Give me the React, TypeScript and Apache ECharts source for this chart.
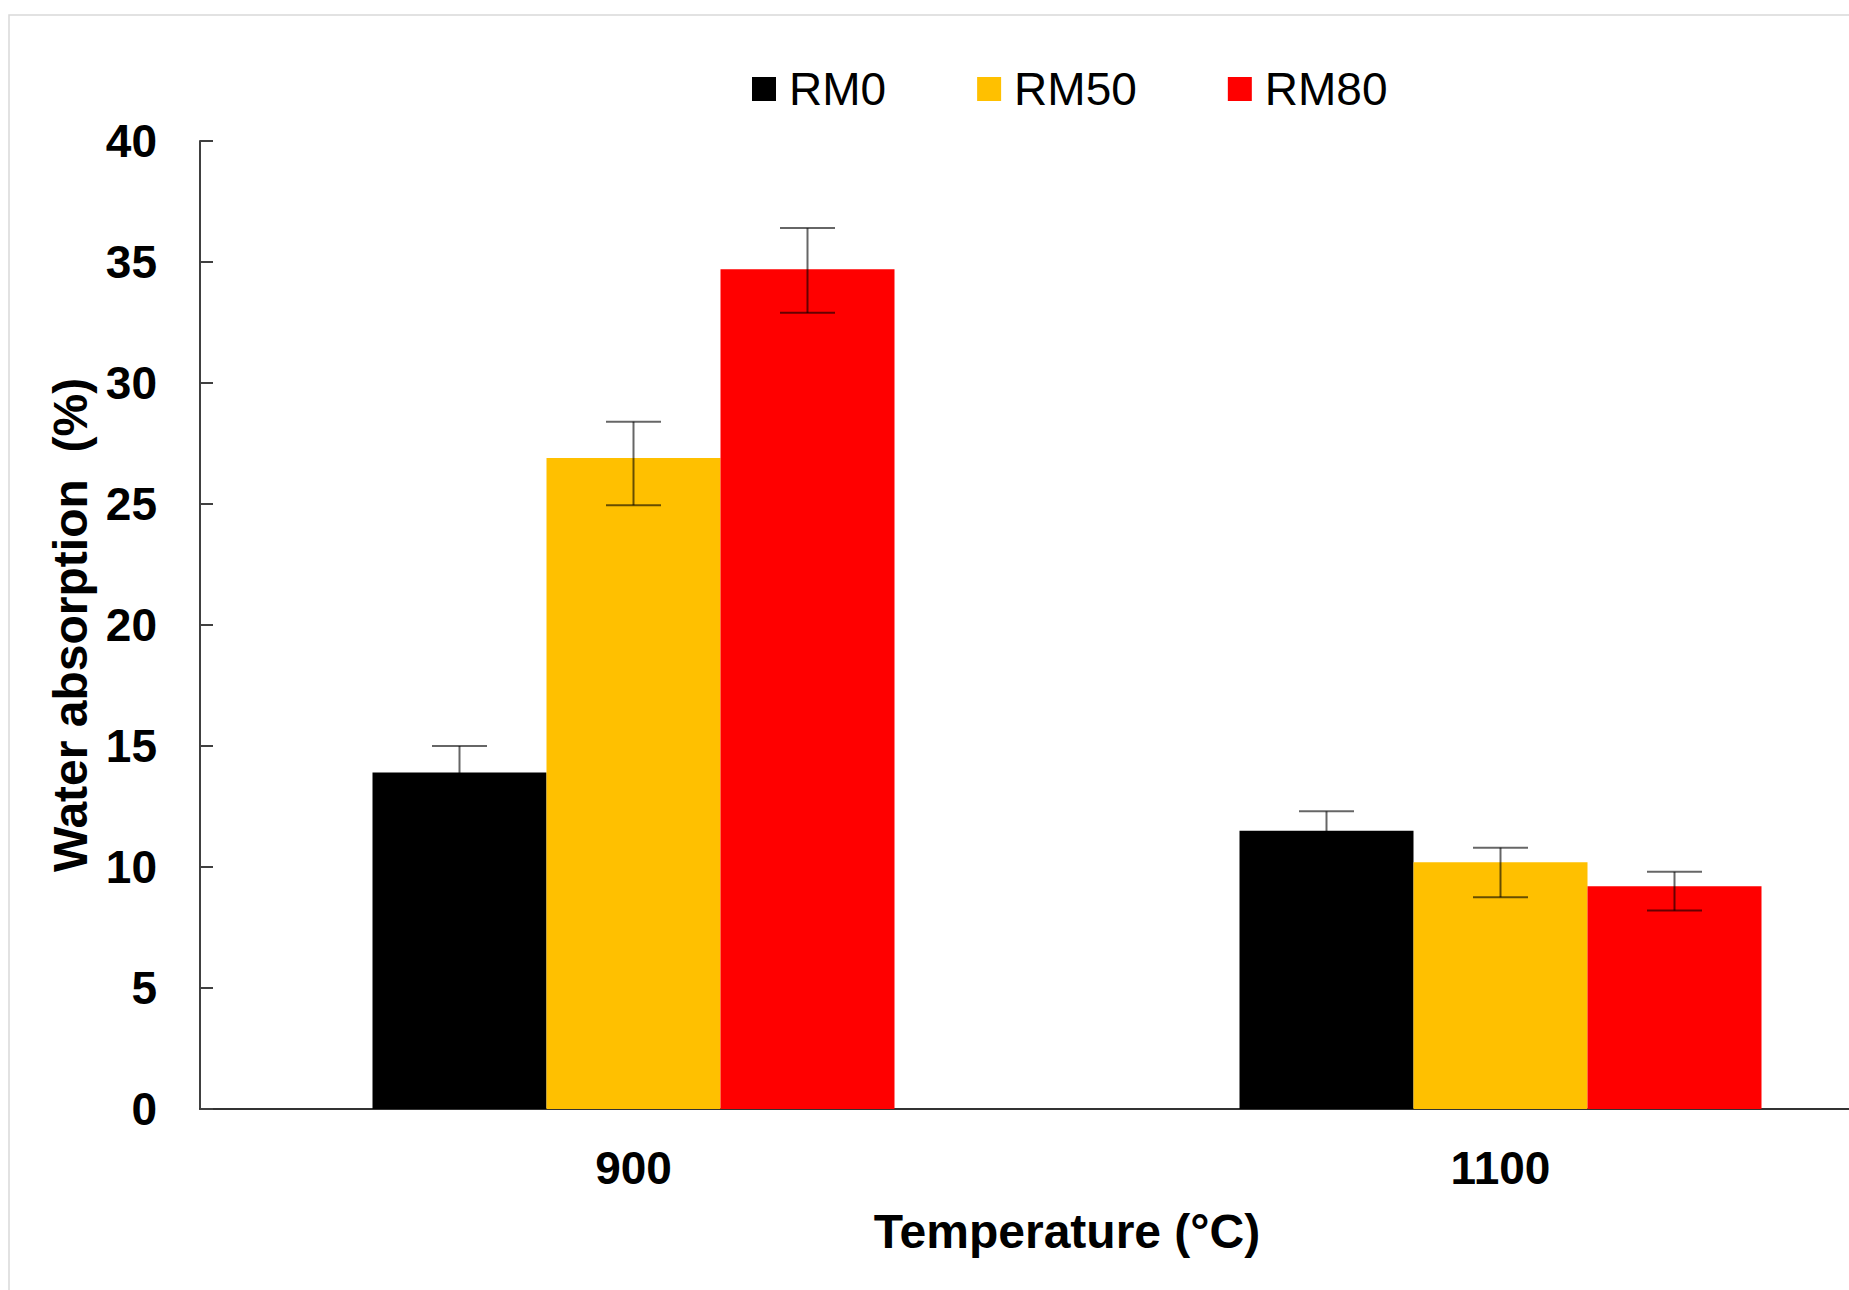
import React, { useEffect, useRef } from "react";
import * as echarts from "echarts";

const categories = ["900", "1100"];
const seriesNames = ["RM0", "RM50", "RM80"];
const seriesColors = ["#000000", "#FFC000", "#FF0000"];
const rm0 = [13.9, 11.5];
const rm50 = [26.9, 10.2];
const rm80 = [34.7, 9.2];
const rm0Low = [12.8, 10.7];
const rm0High = [15.0, 12.3];
const rm50Low = [24.95, 8.75];
const rm50High = [28.4, 10.8];
const rm80Low = [32.9, 8.2];
const rm80High = [36.4, 9.8];
const yTicks = { min: 0, max: 40, interval: 5 };

const FONT = "Arial, 'Liberation Sans', sans-serif";
const BAR_W = 174;
const CAP_W = 55;

export default function App() {
  const ref = useRef<HTMLDivElement>(null);

  useEffect(() => {
    if (!ref.current) return;
    const chart = echarts.init(ref.current, null, { renderer: "svg" });
    const values = [rm0, rm50, rm80];
    const lows = [rm0Low, rm50Low, rm80Low];
    const highs = [rm0High, rm50High, rm80High];
    const errData: number[][] = [];
    for (let s = 0; s < 3; s++) {
      for (let c = 0; c < categories.length; c++) {
        errData.push([c, lows[s][c], highs[s][c], s]);
      }
    }
    const barSeries = seriesNames.map((name, i) => ({
      name,
      type: "bar",
      data: values[i],
      barWidth: BAR_W,
      barGap: "0%",
      itemStyle: { color: seriesColors[i] },
      z: 2,
    }));
    chart.setOption({
      animation: false,
      backgroundColor: "#ffffff",
      graphic: [
        {
          type: "rect",
          shape: { x: 9, y: 15, width: 2000, height: 1300 },
          style: { fill: "none", stroke: "#d9d9d9", lineWidth: 1.5 },
          z: -1,
        },
      ],
      legend: {
        data: seriesNames,
        left: 752,
        top: 66,
        padding: 0,
        itemWidth: 24,
        itemHeight: 24,
        itemGap: 91,
        icon: "rect",
        textStyle: {
          fontSize: 46,
          fontFamily: FONT,
          color: "#000",
          padding: [0, 0, 0, 8],
        },
      },
      grid: { left: 200, top: 141, width: 1734, height: 968, containLabel: false },
      xAxis: {
        type: "category",
        data: categories,
        name: "Temperature (°C)",
        nameLocation: "middle",
        nameGap: 98,
        nameTextStyle: { fontSize: 48, fontWeight: "bold", fontFamily: FONT, color: "#000" },
        axisLine: { lineStyle: { color: "#333", width: 2 } },
        axisTick: { show: false },
        axisLabel: { fontSize: 46, fontWeight: "bold", fontFamily: FONT, color: "#000", margin: 36 },
      },
      yAxis: {
        type: "value",
        min: yTicks.min,
        max: yTicks.max,
        interval: yTicks.interval,
        name: "Water absorption  (%)",
        nameLocation: "middle",
        nameGap: 102,
        nameTextStyle: { fontSize: 48, fontWeight: "bold", fontFamily: FONT, color: "#000" },
        axisLine: { show: true, lineStyle: { color: "#404040", width: 2 } },
        axisTick: { show: true, inside: true, length: 13, lineStyle: { color: "#404040", width: 2 } },
        splitLine: { show: false },
        axisLabel: { fontSize: 46, fontWeight: "bold", fontFamily: FONT, color: "#000", margin: 43 },
      },
      series: [
        ...barSeries,
        {
          name: "err",
          type: "custom",
          data: errData,
          z: 5,
          silent: true,
          renderItem: (params: any, api: any) => {
            const c = api.value(0);
            const lo = api.value(1);
            const hi = api.value(2);
            const s = api.value(3);
            const cx = api.coord([c, 0])[0] + (s - 1) * BAR_W;
            const yLo = api.coord([c, lo])[1];
            const yHi = api.coord([c, hi])[1];
            const st = { stroke: "rgba(0,0,0,0.6)", lineWidth: 2 };
            return {
              type: "group",
              children: [
                { type: "line", shape: { x1: cx, y1: yLo, x2: cx, y2: yHi }, style: st },
                { type: "line", shape: { x1: cx - CAP_W / 2, y1: yHi, x2: cx + CAP_W / 2, y2: yHi }, style: st },
                { type: "line", shape: { x1: cx - CAP_W / 2, y1: yLo, x2: cx + CAP_W / 2, y2: yLo }, style: st },
              ],
            };
          },
        },
      ],
    });
    return () => chart.dispose();
  }, []);

  return (
    <div style={{ position: "absolute", left: 0, top: 0, width: 1849, height: 1290, overflow: "hidden", background: "#fff" }}>
      <div ref={ref} style={{ position: "absolute", left: 0, top: 0, width: 1960, height: 1290 }} />
    </div>
  );
}
